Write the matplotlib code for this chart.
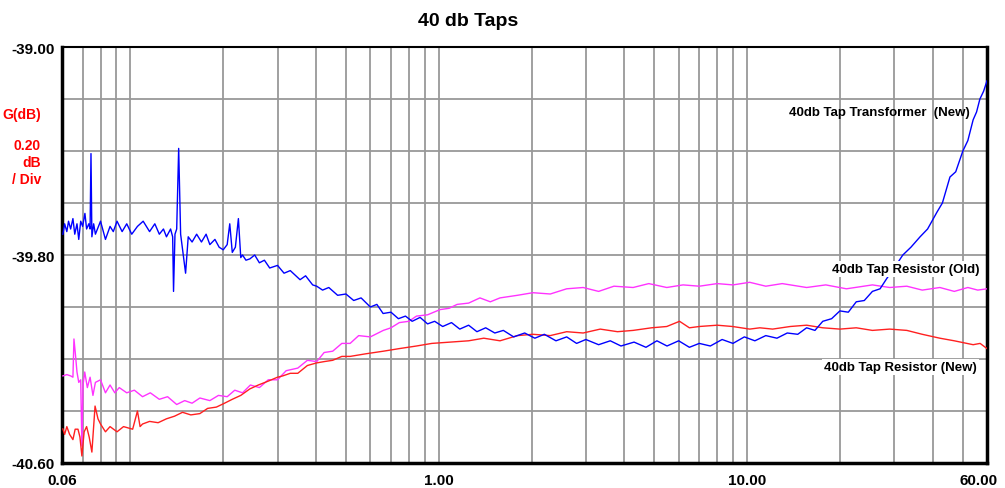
import numpy as np
import matplotlib
matplotlib.use("Agg")
import matplotlib.pyplot as plt
import matplotlib.ticker as mticker
import matplotlib.transforms as mtransforms

plt.rcParams['font.family'] = ['Liberation Sans', 'DejaVu Sans']

# frequency / gain readings for the three traces
freq_tx = [0.0604, 0.0612, 0.0622, 0.0630, 0.0640, 0.0651, 0.0660, 0.0671, 0.0680, 0.0690,
           0.0700, 0.0712, 0.0721, 0.0733, 0.0740, 0.0745, 0.0750, 0.0760, 0.0770, 0.080,
           0.083, 0.0859, 0.088, 0.0905, 0.094, 0.0973, 0.101, 0.1054, 0.110, 0.1154,
           0.120, 0.1241, 0.128, 0.1309, 0.135, 0.1371, 0.1380, 0.1395, 0.1413, 0.1434,
           0.1455, 0.151, 0.154, 0.1585, 0.164, 0.170, 0.176, 0.181, 0.188, 0.194,
           0.200, 0.206, 0.210, 0.214, 0.219, 0.224, 0.228, 0.231, 0.237, 0.244,
           0.253, 0.262, 0.272, 0.283, 0.300, 0.315, 0.330, 0.355, 0.37, 0.39,
           0.402, 0.42, 0.44, 0.47, 0.50, 0.53, 0.56, 0.60, 0.63, 0.66,
           0.70, 0.74, 0.78, 0.82, 0.87, 0.92, 0.97, 1.03, 1.10, 1.17,
           1.25, 1.33, 1.42, 1.52, 1.62, 1.75, 1.9, 2.05, 2.2, 2.4,
           2.6, 2.8, 3.0, 3.3, 3.6, 3.9, 4.3, 4.7, 5.1, 5.5,
           6.0, 6.5, 7.0, 7.6, 8.3, 9.0, 9.8, 10.6, 11.5, 12.5,
           13.5, 14.6, 15.6, 16.6, 17.6, 18.8, 20.0, 21.3, 22.6, 24.0,
           25.5, 27.0, 28.4, 30.0, 32.0, 34.0, 36.4, 38.5, 41.3, 43.0,
           45.5, 47.5, 50.1, 52.0, 54.1, 55.5, 56.9, 58.5, 60.0]
gain_tx = [-39.72, -39.68, -39.71, -39.67, -39.70, -39.66, -39.72, -39.68, -39.74, -39.67,
           -39.69, -39.64, -39.70, -39.68, -39.70, -39.41, -39.73, -39.68, -39.72, -39.67,
           -39.74, -39.69, -39.71, -39.67, -39.71, -39.68, -39.72, -39.69, -39.67, -39.71,
           -39.68, -39.72, -39.70, -39.73, -39.70, -39.73, -39.94, -39.72, -39.70, -39.39,
           -39.72, -39.87, -39.73, -39.75, -39.72, -39.75, -39.72, -39.76, -39.74, -39.77,
           -39.78, -39.76, -39.68, -39.79, -39.77, -39.66, -39.81, -39.80, -39.82, -39.815,
           -39.80, -39.83, -39.82, -39.85, -39.84, -39.87, -39.86, -39.895, -39.88, -39.915,
           -39.92, -39.935, -39.925, -39.955, -39.95, -39.975, -39.965, -40.0, -39.99, -40.025,
           -40.02, -40.045, -40.035, -40.055, -40.04, -40.065, -40.055, -40.075, -40.06, -40.085,
           -40.07, -40.095, -40.08, -40.10, -40.09, -40.115, -40.10, -40.12, -40.105, -40.13,
           -40.115, -40.14, -40.125, -40.145, -40.13, -40.15, -40.135, -40.155, -40.13, -40.15,
           -40.13, -40.155, -40.14, -40.15, -40.125, -40.14, -40.115, -40.13, -40.11, -40.12,
           -40.10, -40.105, -40.08, -40.09, -40.055, -40.045, -40.015, -40.02, -39.98, -39.975,
           -39.94, -39.93, -39.89, -39.85, -39.80, -39.77, -39.73, -39.70, -39.635, -39.60,
           -39.50, -39.48, -39.40, -39.36, -39.28, -39.25, -39.20, -39.17, -39.13]

freq_old = [0.0604, 0.0622, 0.0640, 0.0651, 0.0656, 0.0663, 0.0671, 0.0680, 0.0690, 0.0696,
            0.0702, 0.0711, 0.0725, 0.0740, 0.0756, 0.0770, 0.080, 0.083, 0.0859, 0.089,
            0.092, 0.0973, 0.103, 0.1095, 0.116, 0.1241, 0.132, 0.1413, 0.150, 0.1585,
            0.168, 0.181, 0.193, 0.206, 0.218, 0.231, 0.245, 0.262, 0.280, 0.300,
            0.320, 0.349, 0.375, 0.402, 0.425, 0.453, 0.485, 0.516, 0.55, 0.60,
            0.661, 0.70, 0.745, 0.80, 0.847, 0.92, 1.01, 1.08, 1.147, 1.25,
            1.36, 1.47, 1.58, 1.80, 2.02, 2.3, 2.60, 2.94, 3.3, 3.7,
            4.27, 4.8, 5.49, 6.2, 7.0, 8.0, 9.0, 10.2, 11.5, 13.0,
            15.6, 18.0, 21.0, 25.5, 29.0, 32.97, 37.0, 42.2, 47.0, 52.0,
            56.0, 60.0]
gain_old = [-40.265, -40.26, -40.265, -40.27, -40.123, -40.18, -40.25, -40.29, -40.28, -40.535,
            -40.30, -40.25, -40.31, -40.27, -40.34, -40.29, -40.28, -40.33, -40.30, -40.33,
            -40.31, -40.33, -40.32, -40.345, -40.33, -40.355, -40.345, -40.375, -40.36, -40.37,
            -40.35, -40.36, -40.34, -40.345, -40.32, -40.33, -40.30, -40.31, -40.28, -40.28,
            -40.245, -40.235, -40.205, -40.21, -40.175, -40.17, -40.14, -40.14, -40.11, -40.115,
            -40.09, -40.08, -40.06, -40.055, -40.035, -40.03, -40.01, -40.005, -39.99, -39.985,
            -39.965, -39.98, -39.965, -39.955, -39.945, -39.95, -39.93, -39.925, -39.94, -39.92,
            -39.925, -39.91, -39.925, -39.915, -39.92, -39.91, -39.915, -39.905, -39.92, -39.91,
            -39.925, -39.915, -39.93, -39.915, -39.925, -39.92, -39.935, -39.925, -39.94, -39.925,
            -39.935, -39.93]

freq_new = [0.0604, 0.0612, 0.0622, 0.0635, 0.0651, 0.0662, 0.0676, 0.0686, 0.0696, 0.0708,
            0.0721, 0.0735, 0.0750, 0.0768, 0.0785, 0.080, 0.083, 0.0859, 0.0905, 0.095,
            0.1017, 0.1054, 0.1075, 0.1095, 0.1154, 0.123, 0.1309, 0.139, 0.1476, 0.157,
            0.168, 0.178, 0.190, 0.202, 0.214, 0.228, 0.244, 0.260, 0.280, 0.300,
            0.312, 0.330, 0.349, 0.375, 0.402, 0.425, 0.453, 0.485, 0.516, 0.58,
            0.661, 0.745, 0.847, 0.95, 1.09, 1.25, 1.40, 1.58, 1.80, 2.02,
            2.3, 2.60, 2.94, 3.34, 3.8, 4.27, 4.9, 5.49, 6.04, 6.5,
            7.0, 8.0, 8.97, 10.2, 11.0, 12.1, 13.8, 15.6, 17.6, 20.0,
            22.6, 25.5, 29.0, 32.97, 37.0, 42.2, 47.0, 54.1, 57.0, 60.0]
gain_new = [-40.469, -40.49, -40.46, -40.49, -40.51, -40.47, -40.47, -40.50, -40.573, -40.48,
            -40.46, -40.50, -40.558, -40.381, -40.43, -40.45, -40.48, -40.46, -40.48, -40.46,
            -40.47, -40.40, -40.46, -40.45, -40.44, -40.445, -40.43, -40.42, -40.405, -40.415,
            -40.41, -40.39, -40.385, -40.37, -40.355, -40.34, -40.315, -40.30, -40.285, -40.27,
            -40.265, -40.255, -40.255, -40.225, -40.215, -40.21, -40.205, -40.19, -40.19, -40.18,
            -40.17, -40.16, -40.15, -40.14, -40.135, -40.13, -40.12, -40.13, -40.11, -40.105,
            -40.11, -40.095, -40.10, -40.085, -40.095, -40.09, -40.08, -40.075, -40.055, -40.08,
            -40.075, -40.07, -40.075, -40.085, -40.08, -40.085, -40.075, -40.07, -40.08, -40.085,
            -40.08, -40.09, -40.085, -40.09, -40.105, -40.12, -40.13, -40.145, -40.14, -40.16]

x_grid = [0.07, 0.08, 0.09, 0.1, 0.2, 0.3, 0.4, 0.5, 0.6, 0.7, 0.8, 0.9,
          1, 2, 3, 4, 5, 6, 7, 8, 9, 10, 20, 30, 40, 50]
x_labels = [0.06, 1.0, 10.0, 60.0]
y_labels = [-40.60, -39.80, -39.00]

fig = plt.figure(figsize=(10.05, 4.89), dpi=100)
ax = fig.add_axes([62 / 1005, 1 - 464 / 489, 925 / 1005, 416 / 489])

ax.plot(freq_old, gain_old, color='#ff33ff', lw=1.0, zorder=3)
ax.plot(freq_new, gain_new, color='#ff2020', lw=1.0, zorder=3)
ax.plot(freq_tx, gain_tx, color='#0000ff', lw=1.0, zorder=4)

ax.set_xscale('log')
ax.set_xlim(0.06, 60)
ax.set_ylim(-40.6, -39.0)

ax.set_xticks(x_grid, minor=True)
ax.set_xticks(x_labels)
ax.set_xticklabels(['%.2f' % v for v in x_labels])
ax.xaxis.set_minor_formatter(mticker.NullFormatter())
ax.set_yticks(np.arange(-40.6, -38.99, 0.2), minor=True)
ax.set_yticks(y_labels)
ax.set_yticklabels(['%.2f' % v for v in y_labels])
ax.yaxis.set_minor_formatter(mticker.NullFormatter())
ax.tick_params(which='both', length=0, labelsize=11)
ax.tick_params(axis='x', pad=7.5)
ax.tick_params(axis='y', pad=5)
for lab in ax.get_xticklabels() + ax.get_yticklabels():
    lab.set_fontweight('bold')
last = ax.get_xticklabels()[-1]
last.set_transform(last.get_transform() + mtransforms.ScaledTranslation(-8 / 100, 0, fig.dpi_scale_trans))

ax.grid(True, which='both', color='#999999', lw=1.3)
ax.set_axisbelow(True)
for side in ['left', 'bottom', 'right']:
    ax.spines[side].set_linewidth(2.5)
ax.spines['top'].set_linewidth(1.5)

box = dict(facecolor='white', edgecolor='none', pad=1.5)
ax.text(0.9816, 0.844, '40db Tap Transformer  (New)', transform=ax.transAxes, ha='right', va='center',
        fontsize=9.5, fontweight='bold', zorder=6)
ax.text(0.9924, 0.466, '40db Tap Resistor (Old)', transform=ax.transAxes, ha='right', va='center',
        fontsize=9.5, fontweight='bold', bbox=box, zorder=6)
ax.text(0.989, 0.231, '40db Tap Resistor (New)', transform=ax.transAxes, ha='right', va='center',
        fontsize=9.5, fontweight='bold', bbox=box, zorder=6)

fig.text(468 / 1005, 1 - 22 / 489, '40 db Taps', ha='center', va='center', fontsize=14, fontweight='bold')
fig.text(41 / 1005, 1 - 115 / 489, 'G(dB)', ha='right', va='center', color='red', fontsize=10, fontweight='bold')
fig.text(41 / 1005, 1 - 146 / 489, '0.20', ha='right', va='center', color='red', fontsize=10, fontweight='bold')
fig.text(41 / 1005, 1 - 163 / 489, 'dB', ha='right', va='center', color='red', fontsize=10, fontweight='bold')
fig.text(41 / 1005, 1 - 180 / 489, '/ Div', ha='right', va='center', color='red', fontsize=10, fontweight='bold')

fig.savefig('out.png', dpi=100)
